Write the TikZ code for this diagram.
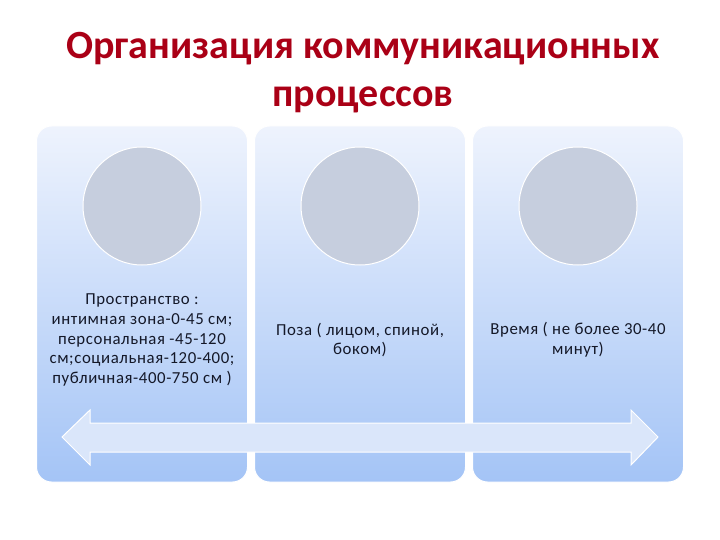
\documentclass[tikz,border=0pt]{standalone}
\usepackage{fontspec}
\setmainfont{Carlito}
\usepackage{tikz}
\usetikzlibrary{calc}
\definecolor{titlered}{RGB}{170,0,22}
\definecolor{paneltop}{RGB}{238,243,253}
\definecolor{panelbot}{RGB}{164,196,246}
\definecolor{discgray}{RGB}{198,206,222}
\definecolor{captext}{RGB}{20,24,40}
\definecolor{arrowfill}{RGB}{218,230,250}
\tikzstyle{panel} = [rectangle, rounded corners = 15, draw = white, line width = 1, top color = paneltop, bottom color = panelbot, minimum width = 211, minimum height = 356, inner sep = 0]
\tikzstyle{disc} = [circle, draw = white, line width = 1, fill = discgray, minimum size = 118, inner sep = 0]
\tikzstyle{caption} = [align = center, text = captext, inner sep = 0, font = \fontsize{16.8}{19.6}\selectfont\addfontfeature{LetterSpace=3.5}]
\tikzstyle{headline} = [align = center, text = titlered, inner sep = 0, font = \fontsize{40}{48}\selectfont\bfseries]

\begin{document}
\begin{tikzpicture}[x = 1pt, y = -1pt]
\useasboundingbox (0, 0) rectangle (720, 540);
\node [headline] (T) at (363, 73) {Организация коммуникационных\\процессов};
\node [panel] (P1) at (142, 304) {};
\node [panel] (P2) at (360, 304) {};
\node [panel] (P3) at (578, 304) {};
\node [disc] (D1) at (142, 206) {};
\node [disc] (D2) at (360, 206) {};
\node [disc] (D3) at (578, 206) {};
\node [caption] (C1) at (142, 340) {Пространство :\\интимная зона-0-45 см;\\персональная -45-120\\см;социальная-120-400;\\публичная-400-750 см )};
\node [caption] (C2) at (360, 340) {Поза ( лицом, спиной,\\боком)};
\node [caption] (C3) at (578, 340) {Время ( не более 30-40\\минут)};
% double block arrow along the bottom
\draw [draw = white, line width = 1, fill = arrowfill] (62, 437) -- (90, 410) -- (90, 423) -- (631, 423) -- (631, 410) -- (658, 437) -- (631, 465) -- (631, 452) -- (90, 452) -- (90, 465) -- cycle;
\end{tikzpicture}
\end{document}
